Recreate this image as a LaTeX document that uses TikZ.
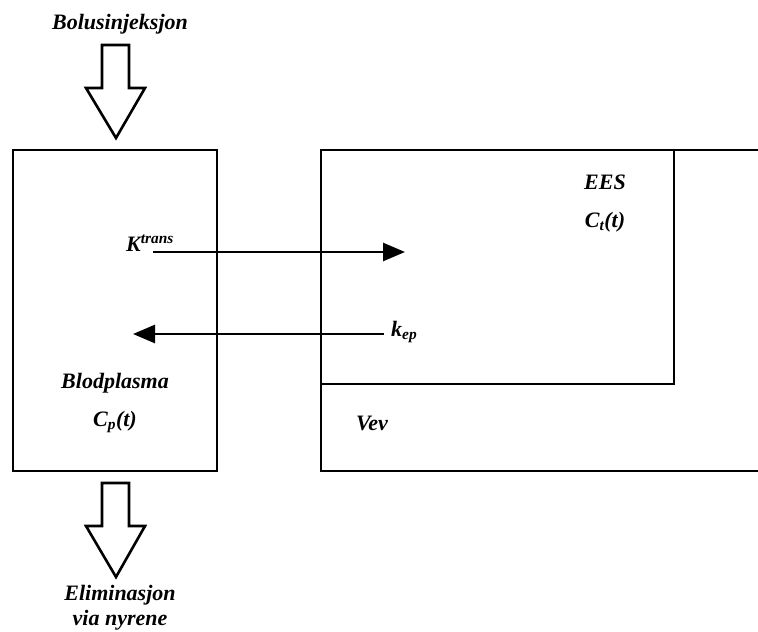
\documentclass[tikz,border=0pt]{standalone}
\usepackage{fontspec}
\setmainfont{Liberation Serif}
\usepackage{tikz}
\usetikzlibrary{arrows.meta}

\tikzset{
  lbl/.style={font=\fontsize{22}{25}\selectfont\bfseries\itshape, inner sep=0pt},
  rateline/.style={line width=2.6pt, -{Triangle[length=22pt,width=18pt]}},
  boxline/.style={line width=2.9pt, line join=miter},
  blockarrow/.style={line width=2.6pt, fill=white, line join=miter}
}

\begin{document}
\begin{tikzpicture}[x=1pt,y=-1pt]
  \useasboundingbox (0,0) rectangle (758,632);

  % compartments
  \draw[boxline] (13,150) rectangle (217,471);
  \draw[boxline] (758,150) -- (321,150) -- (321,471) -- (758,471);
  \draw[boxline] (321,150) rectangle (674,384);

  % inn og ut
  \draw[blockarrow] (102,45) -- (129,45) -- (129,88) -- (145,88) -- (116,138)
    -- (86,88) -- (102,88) -- cycle;
  \draw[blockarrow] (102,483) -- (129,483) -- (129,526) -- (145,526) -- (116,577)
    -- (86,526) -- (102,526) -- cycle;

  \node[lbl] (bolus) at (120,24) {Bolusinjeksjon};
  \node[lbl, align=center] (elim) at (120,608) {Eliminasjon\\via nyrene};

  \node[lbl] (blod) at (115,383) {Blodplasma};
  \node[lbl] (cp) at (115,422) {C\textsubscript{p}(t)};
  \node[lbl] (ees) at (605,182) {EES};
  \node[lbl] (ct) at (605,222) {C\textsubscript{t}(t)};
  \node[lbl] (vev) at (372,423) {Vev};

  \node[lbl, anchor=base west] (ktrans) at (126,251) {K\textsuperscript{trans}};
  \node[lbl, anchor=base west] (kep) at (391,336) {k\textsubscript{ep}};

  \coordinate (ktransend) at (405,252);
  \coordinate (kepend) at (133,334);
  \draw[rateline] (153,252) -- (ktransend);
  \draw[rateline] (kep.west |- 0,334) ++(-7,0) -- (kepend);
\end{tikzpicture}
\end{document}
